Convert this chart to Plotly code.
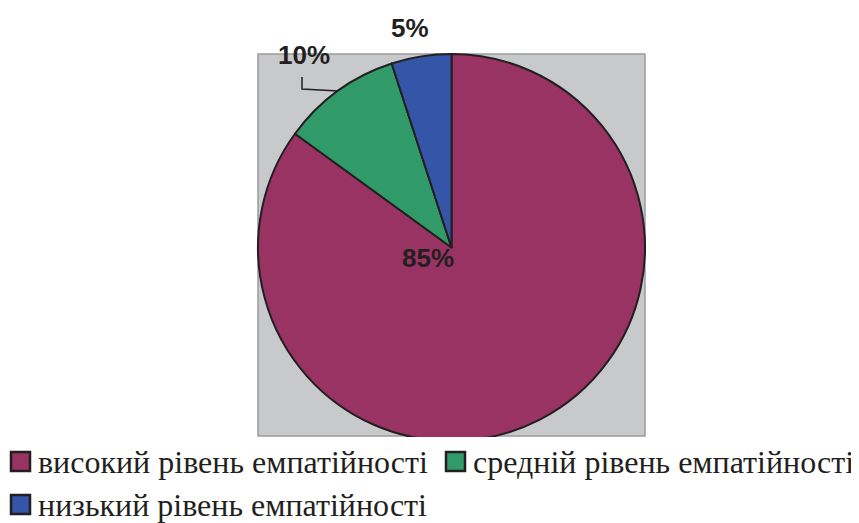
import plotly.graph_objects as go

# data
categories = ["високий рівень емпатійності", "средній рівень емпатійності", "низький рівень емпатійності"]
values = [85, 10, 5]
colours = ["#983363", "#309A68", "#3455A8"]

# the page body keeps its default 8px margin, so the figure is a bit smaller
OFF = 8
W, H = 859 - OFF, 523 - OFF


def px_x(x):
    return (x - OFF) / W


def px_y(y):
    return 1 - (y - OFF) / H


fig = go.Figure()

fig.add_trace(go.Pie(
    labels=categories,
    values=values,
    marker=dict(colors=colours, line=dict(color="#231F20", width=2)),
    sort=False,
    direction="clockwise",
    rotation=0,
    textinfo="none",
    hoverinfo="label+percent",
    showlegend=False,
    domain=dict(x=[px_x(258), px_x(645)], y=[px_y(441), px_y(54)]),
))

# grey square behind the pie
fig.add_shape(
    type="rect", xref="paper", yref="paper",
    x0=px_x(258), x1=px_x(645), y0=px_y(436), y1=px_y(54),
    fillcolor="#C8C9CB", line=dict(color="#9A9A9A", width=1.5),
    layer="below",
)
# the pie is clipped at the bottom of the square
fig.add_shape(
    type="rect", xref="paper", yref="paper",
    x0=px_x(250), x1=px_x(660), y0=px_y(443), y1=px_y(437),
    fillcolor="white", line=dict(width=0),
    layer="above",
)

# percent labels
label_pos = [(428, 258), (304, 55), (410, 28)]
for v, (x, y) in zip(values, label_pos):
    fig.add_annotation(
        x=px_x(x), y=px_y(y), xref="paper", yref="paper",
        xanchor="center", yanchor="middle",
        text=f"<b>{v}%</b>", showarrow=False,
        font=dict(family="Liberation Sans", size=26, color="#231F20"),
    )

# leader line for 10%
fig.add_shape(
    type="path", xref="paper", yref="paper",
    path=f"M {px_x(302)} {px_y(77)} L {px_x(302)} {px_y(89)} L {px_x(338)} {px_y(91)}",
    line=dict(color="#231F20", width=1.5),
)

# legend, drawn by hand: two entries on the first row, one on the second
legend_pos = [(10, 461), (445, 461), (10, 504)]
for name, col, (x, y) in zip(categories, colours, legend_pos):
    fig.add_shape(
        type="rect", xref="paper", yref="paper",
        x0=px_x(x + 1), x1=px_x(x + 20), y0=px_y(y + 10), y1=px_y(y - 9),
        fillcolor=col, line=dict(color="#231F20", width=2.5),
    )
    fig.add_annotation(
        x=px_x(x + 26), y=px_y(y + 1), xref="paper", yref="paper",
        xanchor="left", yanchor="middle",
        text=name, showarrow=False,
        font=dict(family="Liberation Serif", size=32, color="#231F20"),
    )

fig.update_layout(
    width=W, height=H,
    margin=dict(l=0, r=0, t=0, b=0),
    paper_bgcolor="white",
    showlegend=False,
)

fig.write_html("out.html")
